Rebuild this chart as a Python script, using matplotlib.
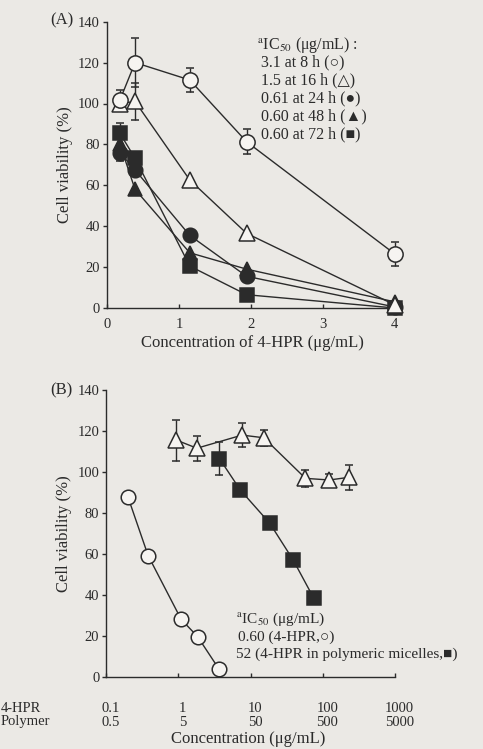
import matplotlib
matplotlib.use('Agg')
import matplotlib.pyplot as plt
from matplotlib.transforms import blended_transform_factory
from matplotlib.ticker import NullLocator

plt.rcParams['font.family'] = ['Liberation Serif', 'DejaVu Sans']
plt.rcParams['mathtext.fontset'] = 'stix'

# ---------------- Panel A data ----------------
conc_a = [0.18, 0.39, 1.15, 1.94, 4.0]
via_8h = [101.7, 120.0, 111.5, 81.3, 26.4]
err_8h = [5, 12, 6, 6, 6]
via_16h = [100.0, 101.0, 62.6, 36.5, 1.5]
err_16h = [0, 9, 0, 0, 0]
via_24h = [76.0, 67.5, 35.5, 15.5, 0.5]
err_24h = [4, 3, 0, 0, 0]
via_48h = [80.0, 58.0, 27.0, 19.0, 3.0]
err_48h = [0, 0, 0, 0, 0]
via_72h = [85.4, 73.2, 20.5, 6.5, 0.0]
err_72h = [5, 3, 0, 0, 0]
ic50_a = ['3.1 at 8 h', '1.5 at 16 h', '0.61 at 24 h', '0.60 at 48 h', '0.60 at 72 h']
symbols_a = ['○', '△', '●', '▲', '■']
yticks = [0, 20, 40, 60, 80, 100, 120, 140]
xticks_a = [0, 1, 2, 3, 4]

# ---------------- Panel B data ----------------
hpr_conc = [0.2, 0.38, 1.09, 1.84, 3.67]
hpr_via = [87.7, 59.2, 28.1, 19.7, 3.7]
mic_conc = [3.7, 7.2, 18.4, 38.8, 75]
mic_via = [106.5, 91.2, 75.0, 57.1, 38.4]
mic_err = [8, 0, 0, 0, 0]
pol_conc = [0.93, 1.8, 7.6, 15.2, 57.5, 123, 229]
pol_via = [115.6, 111.6, 118.0, 116.7, 96.9, 96.1, 97.4]
pol_err = [10, 6, 6, 4, 4, 3, 6]
xticks_b = [0.1, 1, 10, 100, 1000]
labels_hpr = ['0.1', '1', '10', '100', '1000']
labels_polymer = ['0.5', '5', '50', '500', '5000']

W, H = 483, 749
BG = '#ebe9e5'
INK = '#2b2b2b'
OPEN = '#f6f4f1'
FAM = ['Liberation Serif', 'DejaVu Sans']

TICK_FS = 10.5
LABEL_FS = 12
NOTE_FS = 11.5
NOTE_B_FS = 11
ROW_FS = 10.5

fig = plt.figure(figsize=(W / 100, H / 100), dpi=100, facecolor=BG)

def fx(x):
    return x / W

def fy(y):
    return 1 - y / H

def style_axes(ax):
    ax.set_facecolor('none')
    for s in ['top', 'right']:
        ax.spines[s].set_visible(False)
    for s in ['left', 'bottom']:
        ax.spines[s].set_color(INK)
        ax.spines[s].set_linewidth(1.0)
    ax.tick_params(axis='y', direction='out', length=3, width=1, colors=INK,
                   labelsize=TICK_FS, pad=2)
    ax.tick_params(axis='x', direction='in', length=3, width=1, colors=INK,
                   labelsize=TICK_FS, pad=7)

def series(ax, x, y, err, marker, filled, ms):
    fc = INK if filled else OPEN
    cont = ax.errorbar(x, y, yerr=err, color=INK, lw=1.0, elinewidth=1.0, capsize=3,
                       capthick=1.0, marker=marker, ms=ms, mfc=fc, mec=INK, mew=1.1,
                       zorder=3)
    for art in cont.get_children():
        art.set_clip_on(False)

# ---------------- Panel A ----------------
axA = fig.add_axes([fx(107), fy(308), fx(397) - fx(107), fy(21.7) - fy(308)])
style_axes(axA)
axA.set_xlim(0, 4.03)
axA.set_ylim(0, 140)
axA.set_yticks(yticks)
axA.set_xticks(xticks_a)
series(axA, conc_a, via_72h, err_72h, 's', True, 10)
series(axA, conc_a, via_48h, err_48h, '^', True, 10.5)
series(axA, conc_a, via_24h, err_24h, 'o', True, 10.5)
series(axA, conc_a, via_16h, err_16h, '^', False, 11.5)
series(axA, conc_a, via_8h, err_8h, 'o', False, 11)
axA.set_xlabel('Concentration of 4-HPR (μg/mL)', fontsize=LABEL_FS, color=INK, labelpad=3)
axA.set_ylabel('Cell viability (%)', fontsize=LABEL_FS, color=INK, labelpad=4)

fig.text(fx(50), fy(20), '(A)', fontsize=LABEL_FS, color=INK, ha='left', va='center')
fig.text(fx(257), fy(45), r'$^{\rm a}$IC$_{50}$ (μg/mL) :', fontsize=NOTE_FS, color=INK,
         ha='left', va='center')
for i, (lab, sym) in enumerate(zip(ic50_a, symbols_a)):
    fig.text(fx(261), fy(62 + 18 * i), f'{lab} ({sym})', fontsize=NOTE_FS, color=INK,
             ha='left', va='center', family=FAM)

# ---------------- Panel B ----------------
axB = fig.add_axes([fx(106.3), fy(677), fx(395) - fx(106.3), fy(390) - fy(677)])
style_axes(axB)
axB.set_xscale('log')
axB.set_xlim(0.1, 1000)
axB.set_ylim(0, 140)
axB.set_yticks(yticks)
axB.set_xticks(xticks_b)
axB.xaxis.set_minor_locator(NullLocator())
axB.set_xticklabels([])
axB.tick_params(axis='x', labelbottom=False)
series(axB, pol_conc, pol_via, pol_err, '^', False, 11.5)
series(axB, mic_conc, mic_via, mic_err, 's', True, 10.5)
series(axB, hpr_conc, hpr_via, [0] * len(hpr_via), 'o', False, 10.5)
axB.set_ylabel('Cell viability (%)', fontsize=LABEL_FS, color=INK, labelpad=4)

tr = blended_transform_factory(axB.transData, fig.transFigure)
for xv, l1, l2 in zip(xticks_b, labels_hpr, labels_polymer):
    axB.text(xv * 1.15, fy(708), l1, transform=tr, fontsize=ROW_FS, color=INK,
             ha='center', va='center')
    axB.text(xv * 1.15, fy(722), l2, transform=tr, fontsize=ROW_FS, color=INK,
             ha='center', va='center')
fig.text(fx(1), fy(708), '4-HPR', fontsize=ROW_FS, color=INK, ha='left', va='center')
fig.text(fx(1), fy(722), 'Polymer', fontsize=ROW_FS, color=INK, ha='left', va='center')
fig.text(fx(248), fy(739), 'Concentration (μg/mL)', fontsize=LABEL_FS, color=INK,
         ha='center', va='center')

fig.text(fx(50), fy(390), '(B)', fontsize=LABEL_FS, color=INK, ha='left', va='center')
fig.text(fx(236), fy(619), r'$^{\rm a}$IC$_{50}$ (μg/mL)', fontsize=NOTE_B_FS, color=INK,
         ha='left', va='center')
fig.text(fx(238), fy(637), '0.60 (4-HPR,○)', fontsize=NOTE_B_FS, color=INK,
         ha='left', va='center', family=FAM)
fig.text(fx(236), fy(654), '52 (4-HPR in polymeric micelles,■)', fontsize=NOTE_B_FS,
         color=INK, ha='left', va='center', family=FAM)

fig.savefig('out.png', dpi=100, facecolor=BG)
